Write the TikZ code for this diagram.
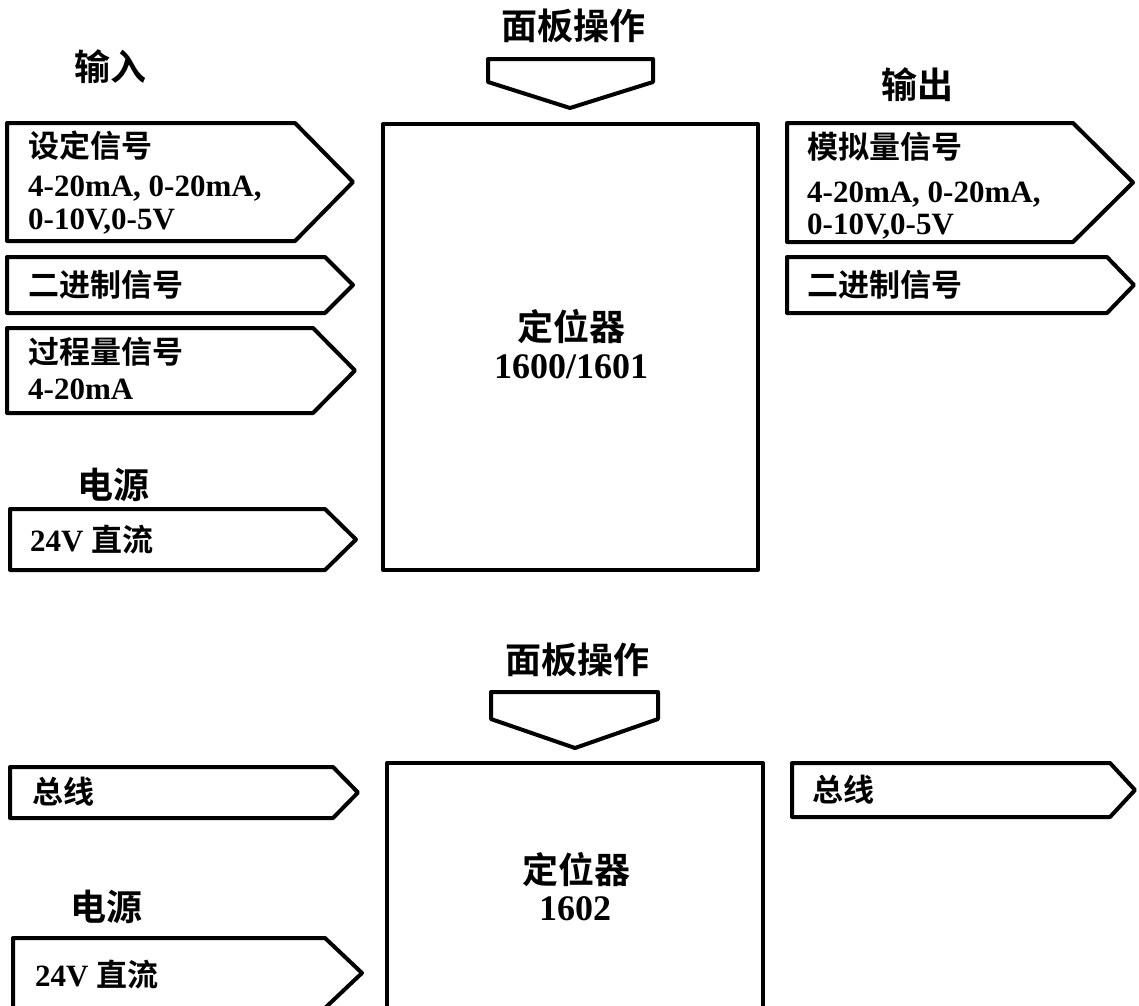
\documentclass[tikz,border=0pt]{standalone}
\usepackage{fontspec}
\setmainfont{Liberation Serif}
\newfontfamily\cjk{Noto Sans CJK SC}[UprightFont={* Bold},BoldFont={* Bold}]
\newcommand\myboxfont{\fontsize{31}{37}\selectfont\bfseries}
\newcommand\mytitlefont{\fontsize{36}{42}\selectfont\bfseries}
\tikzset{
  shp/.style={draw=black, line width=4pt, line join=round, fill=white},
  lbl/.style={inner sep=0pt, anchor=base west, font=\myboxfont},
  ttl/.style={inner sep=0pt, anchor=base, font=\mytitlefont}
}
\begin{document}
\begin{tikzpicture}[x=1pt,y=-1pt]
\clip (0,0) rectangle (1139,1005);
\fill[white] (0,0) rectangle (1139,1005);

% ---------- top section ----------
\draw[shp] (383,124) rectangle (758,570);
\draw[shp] (488,59) -- (653,59) -- (653,82) -- (570,108) -- (488,82) -- cycle;
\node[ttl] (panelA) at (573,39) {\cjk 面板操作};
\node[ttl] (posA) at (571,340) {\cjk 定位器};
\node[ttl] (posAn) at (571,378) {1600/1601};

\node[ttl] (inT) at (110,80) {\cjk 输入};
\draw[shp] (7,123) -- (295,123) -- (353,182) -- (295,241) -- (7,241) -- cycle;
\node[lbl] (in1a) at (28,157) {\cjk 设定信号};
\node[lbl] (in1b) at (28,196) {4-20mA, 0-20mA,};
\node[lbl] (in1c) at (28,229) {0-10V,0-5V};
\draw[shp] (7,257) -- (325,257) -- (353,285) -- (325,313) -- (7,313) -- cycle;
\node[lbl] (in2) at (28,296) {\cjk 二进制信号};
\draw[shp] (7,328) -- (313,328) -- (355,370.5) -- (313,413) -- (7,413) -- cycle;
\node[lbl] (in3a) at (28,363) {\cjk 过程量信号};
\node[lbl] (in3b) at (28,399) {4-20mA};

\node[ttl] (pwrTA) at (113,498) {\cjk 电源};
\draw[shp] (10,509) -- (325,509) -- (356,539.5) -- (325,570) -- (10,570) -- cycle;
\node[lbl] (pwrA) at (30,551) {24V {\cjk 直流}};

\node[ttl] (outT) at (917,98) {\cjk 输出};
\draw[shp] (787,123) -- (1073,123) -- (1133,182.5) -- (1073,242) -- (787,242) -- cycle;
\node[lbl] (out1a) at (807,158) {\cjk 模拟量信号};
\node[lbl] (out1b) at (807,202) {4-20mA, 0-20mA,};
\node[lbl] (out1c) at (807,234) {0-10V,0-5V};
\draw[shp] (787,257) -- (1107,257) -- (1134,285) -- (1107,313) -- (787,313) -- cycle;
\node[lbl] (out2) at (807,296) {\cjk 二进制信号};

% ---------- bottom section ----------
\draw[shp,fill=none] (387,1020) -- (387,763) -- (763,763) -- (763,1020);
\draw[shp] (491,692) -- (658,692) -- (658,719) -- (575,748) -- (491,719) -- cycle;
\node[ttl] (panelB) at (577,673) {\cjk 面板操作};
\node[ttl] (posB) at (576,883) {\cjk 定位器};
\node[ttl] (posBn) at (575,920) {1602};

\draw[shp] (10,767) -- (333,767) -- (358,792.5) -- (333,818) -- (10,818) -- cycle;
\node[lbl] (busL) at (32,803) {\cjk 总线};

\node[ttl] (pwrTB) at (106,920) {\cjk 电源};
\draw[shp] (13,938) -- (325,938) -- (362,973) -- (325,1008) -- (13,1008) -- cycle;
\node[lbl] (pwrB) at (35,986) {24V {\cjk 直流}};

\draw[shp] (792,763) -- (1110,763) -- (1135,790) -- (1110,817) -- (792,817) -- cycle;
\node[lbl] (busR) at (812,801) {\cjk 总线};
\end{tikzpicture}
\end{document}
